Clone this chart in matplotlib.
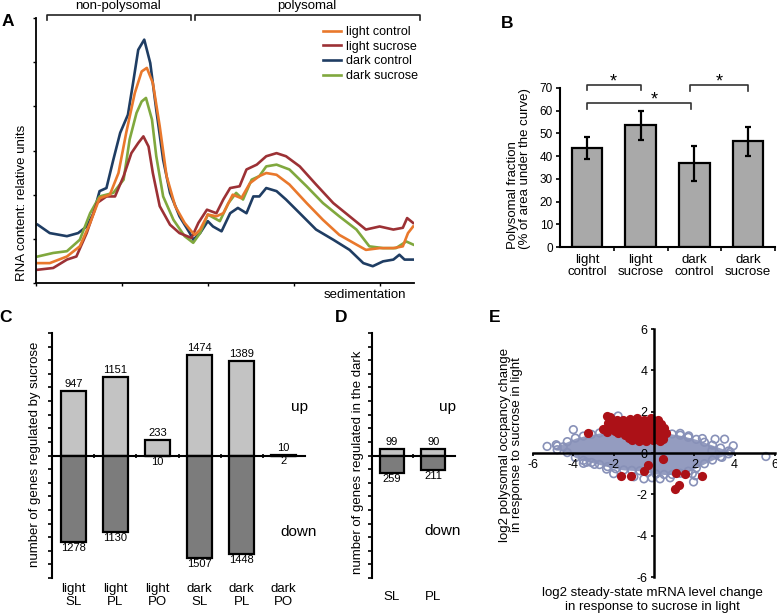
import matplotlib.pyplot as plt
import numpy as np

plt.rcParams['font.family'] = ['Liberation Sans', 'DejaVu Sans']
plt.rcParams['axes.unicode_minus'] = False

# ---- A: polysome profiles (sedimentation position, RNA content) ----
lc_x = [0.02, 0.16, 0.36, 0.51, 0.63, 0.74, 0.86, 0.96, 1.05, 1.15, 1.23, 1.29, 1.36, 1.44, 1.52, 1.62, 1.73, 1.81,
        1.85, 1.91, 2.00, 2.10, 2.18, 2.29, 2.39, 2.49, 2.60, 2.68, 2.80, 2.95, 3.15, 3.34, 3.53, 3.73, 3.84, 4.00,
        4.16, 4.27, 4.33, 4.39]
lc_y = [0.45, 0.45, 0.60, 0.83, 1.36, 1.92, 2.00, 2.49, 3.40, 4.30, 4.79, 4.87, 4.53, 3.55, 2.42, 1.74, 1.36, 1.17,
        1.09, 1.21, 1.55, 1.51, 1.58, 2.00, 1.92, 2.26, 2.42, 2.49, 2.45, 2.23, 1.81, 1.43, 1.09, 0.87, 0.75, 0.79,
        0.79, 0.83, 1.13, 1.28]
ls_x = [0.02, 0.20, 0.36, 0.47, 0.59, 0.71, 0.82, 0.92, 1.02, 1.11, 1.19, 1.25, 1.31, 1.36, 1.44, 1.56, 1.67, 1.81,
        1.89, 1.99, 2.10, 2.18, 2.26, 2.37, 2.45, 2.57, 2.68, 2.80, 2.91, 3.07, 3.26, 3.46, 3.65, 3.84, 4.00, 4.16,
        4.27, 4.32, 4.39]
ls_y = [0.30, 0.34, 0.53, 0.60, 1.13, 1.81, 1.96, 1.96, 2.42, 2.94, 3.17, 3.32, 3.09, 2.49, 1.74, 1.32, 1.13, 1.02,
        1.36, 1.66, 1.58, 1.89, 2.15, 2.19, 2.57, 2.68, 2.87, 2.94, 2.87, 2.64, 2.23, 1.81, 1.51, 1.21, 1.28, 1.21,
        1.25, 1.47, 1.36]
dc_x = [0.02, 0.16, 0.36, 0.49, 0.59, 0.67, 0.74, 0.82, 0.90, 0.98, 1.07, 1.13, 1.19, 1.26, 1.33, 1.40, 1.48, 1.56,
        1.67, 1.79, 1.83, 1.91, 2.00, 2.06, 2.16, 2.26, 2.35, 2.45, 2.53, 2.60, 2.68, 2.80, 2.91, 3.07, 3.26, 3.46,
        3.65, 3.81, 3.92, 4.04, 4.16, 4.23, 4.29, 4.39]
dc_y = [1.32, 1.13, 1.06, 1.13, 1.28, 1.58, 2.08, 2.15, 2.79, 3.40, 3.81, 4.53, 5.28, 5.51, 4.98, 3.92, 2.79, 2.04,
        1.51, 1.13, 0.98, 1.13, 1.40, 1.28, 1.17, 1.58, 1.70, 1.58, 1.96, 1.96, 2.15, 2.08, 1.89, 1.58, 1.21, 0.98,
        0.75, 0.45, 0.38, 0.49, 0.53, 0.64, 0.53, 0.53]
ds_x = [0.02, 0.20, 0.36, 0.51, 0.63, 0.74, 0.90, 1.02, 1.09, 1.17, 1.23, 1.28, 1.35, 1.40, 1.48, 1.60, 1.73, 1.83,
        1.91, 2.00, 2.14, 2.24, 2.33, 2.41, 2.51, 2.60, 2.68, 2.80, 2.95, 3.15, 3.34, 3.53, 3.73, 3.88, 4.04, 4.19,
        4.31, 4.39]
ds_y = [0.60, 0.68, 0.72, 0.98, 1.58, 1.96, 2.04, 2.34, 3.25, 3.85, 4.11, 4.19, 3.70, 2.87, 1.96, 1.43, 1.06, 0.91,
        1.13, 1.55, 1.40, 1.81, 2.04, 1.89, 2.34, 2.42, 2.64, 2.68, 2.57, 2.19, 1.81, 1.51, 1.21, 0.83, 0.79, 0.79,
        0.94, 0.87]

# ---- B: polysomal fraction ----
b_labels = ['light\ncontrol', 'light\nsucrose', 'dark\ncontrol', 'dark\nsucrose']
b_vals = [43.7, 53.5, 36.8, 46.5]
b_errs = [4.8, 6.4, 7.7, 6.4]

# ---- C / D: gene counts ----
c_labels = ['light\nSL', 'light\nPL', 'light\nPO', 'dark\nSL', 'dark\nPL', 'dark\nPO']
c_up = [947, 1151, 233, 1474, 1389, 10]
c_down = [1278, 1130, 10, 1507, 1448, 2]
d_labels = ['SL', 'PL']
d_up = [99, 90]
d_down = [259, 211]

# ---- E: scatter ----
env_x = [-4.8, -4.3, -3.9, -3.5, -3.1, -2.7, -2.3, -1.9, -1.5, -1.1, -0.7, -0.3, 0.1, 0.5, 0.9, 1.3, 1.7, 2.1,
         2.5, 2.9, 3.3, 3.7]
env_hi = [0.34, 0.55, 0.72, 0.82, 0.9, 0.97, 1.05, 1.1, 1.15, 1.2, 1.22, 1.22, 1.15, 1.02, 0.92, 0.86, 0.76, 0.66,
          0.52, 0.38, 0.24, 0.1]
env_lo = [0.16, 0.02, -0.22, -0.36, -0.46, -0.56, -0.66, -0.76, -0.82, -0.84, -0.86, -0.94, -1.02, -1.04, -1.04,
          -0.98, -0.88, -0.72, -0.52, -0.34, -0.18, -0.04]
gray_x = [-5.3, -4.85, -4.5, -4.0, -3.5, -2.95, -2.35, -2.0, -1.78, 0.3, 0.8, 1.9, 1.96, 2.05, 1.72, 3.03, 3.5,
          3.93, 3.78, 3.37, 2.87, 5.55, -3.35, -0.5, -1.0, 2.4, 1.3, -0.1]
gray_y = [0.32, 0.4, 0.3, 1.13, -0.5, -0.55, -0.78, -1.0, 1.79, -1.25, -1.2, -1.0, -1.4, -1.1, 0.83, 0.67, 0.67,
          0.35, 0.05, -0.21, 0.11, -0.17, -0.45, -1.25, -1.15, 0.7, 0.95, -1.2]
red_x = [-2.35, -2.2, -1.85, -2.55, -2.35, -3.25, -2.05, -1.95, -2.3, -2.0, -1.9, -2.2, -1.8,
         -1.55, -1.2, -0.85, -0.5, -0.15, 0.2,
         -1.4, -1.05, -0.7, -0.3, 0.05, 0.35,
         -1.75, -1.45, -1.1, -0.8, -0.45, -0.1, 0.25, 0.5,
         -1.55, -1.2, -0.9, -0.6, -0.25, 0.1, 0.4,
         -1.6, -1.3, -1.0, -0.7, -0.35, -0.05, 0.3, 0.6,
         -1.5, -1.15, -0.85, -0.5, -0.15, 0.2, 0.5,
         -1.45, -1.15, -0.85, -0.55, -0.2, 0.1, 0.42,
         -1.25, -0.9, -0.55, -0.25, 0.15, 0.45,
         -1.1, -0.75, -0.4, -0.05, 0.3,
         -1.62, -1.15, -0.5, -0.3, 0.46, 1.1, 1.52, 2.37, 1.05, 1.24]
red_y = [1.78, 1.72, 1.62, 1.15, 1.02, 0.95, 1.30, 1.05, 1.45, 1.55, 1.35, 1.2, 0.95,
         1.6, 1.65, 1.7, 1.62, 1.68, 1.58,
         1.48, 1.5, 1.46, 1.5, 1.47, 1.42,
         1.38, 1.35, 1.4, 1.32, 1.38, 1.35, 1.3, 1.2,
         1.22, 1.24, 1.2, 1.25, 1.22, 1.2, 1.15,
         1.1, 1.12, 1.08, 1.12, 1.05, 1.1, 1.05, 0.98,
         0.97, 0.98, 0.95, 0.98, 0.96, 0.95, 0.9,
         0.85, 0.82, 0.88, 0.8, 0.85, 0.82, 0.8,
         0.72, 0.72, 0.7, 0.74, 0.7, 0.7,
         0.62, 0.58, 0.6, 0.62, 0.6,
         -1.09, -1.09, -0.85, -0.6, -0.29, -0.95, -1.0, -1.1, -1.72, -1.55]

W, H = 777, 615


def box(l, t, r, b):
    return [l / W, 1 - b / H, (r - l) / W, (b - t) / H]


fig = plt.figure(figsize=(7.77, 6.15), dpi=100)

# ================= A =================
axA = fig.add_axes(box(36, 18, 414, 283))
series = [(dc_x, dc_y, '#1f3d63', 'dark control'),
          (ds_x, ds_y, '#80a83e', 'dark sucrose'),
          (ls_x, ls_y, '#9c3135', 'light sucrose'),
          (lc_x, lc_y, '#e9782c', 'light control')]
handles = {}
for x, y, c, lab in series:
    handles[lab], = axA.plot(x, y, color=c, lw=1.9, label=lab)
axA.set_xlim(0, 4.4)
axA.set_ylim(0, 6)
axA.set_xticks(range(5))
axA.set_yticks(range(7))
axA.set_xticklabels([])
axA.set_yticklabels([])
for s in ['top', 'right']:
    axA.spines[s].set_visible(False)
for s in ['left', 'bottom']:
    axA.spines[s].set_linewidth(1.3)
axA.tick_params(direction='out', length=2.5, width=1)
order = ['light control', 'light sucrose', 'dark control', 'dark sucrose']
axA.legend([handles[k] for k in order], order, loc='upper left', bbox_to_anchor=(323 / W, 1 - 26 / H),
           bbox_transform=fig.transFigure, frameon=False, fontsize=9, handlelength=1.45,
           handletextpad=0.35, labelspacing=0.22, borderpad=0, borderaxespad=0)
trA = axA.get_xaxis_transform()
axA.plot([0.124, 0.124, 1.80, 1.80], [0.993, 1.011, 1.011, 0.993], transform=trA, clip_on=False,
         color='#222222', lw=1.2)
axA.plot([1.85, 1.85, 4.47, 4.47], [0.993, 1.011, 1.011, 0.993], transform=trA, clip_on=False,
         color='#222222', lw=1.2)
axA.text(0.95, 1.045, 'non-polysomal', transform=trA, ha='center', va='center', fontsize=9.5)
axA.text(3.15, 1.045, 'polysomal', transform=trA, ha='center', va='center', fontsize=9.5)
axA.text(3.83, -0.045, 'sedimentation', transform=trA, ha='center', va='center', fontsize=9.5)
fig.text(22 / W, 1 - 203 / H, 'RNA content: relative units', rotation=90, ha='center', va='center',
         fontsize=9.5)

# ================= B =================
axB = fig.add_axes(box(560, 88, 775, 247))
xb = np.arange(len(b_vals))
axB.bar(xb, b_vals, width=0.57, color='#a9a9a9', edgecolor='black', linewidth=1.6)
axB.errorbar(xb, b_vals, yerr=b_errs, fmt='none', ecolor='black', elinewidth=1.6, capsize=2.5, capthick=1.6)
axB.set_xlim(-0.5, 3.5)
axB.set_ylim(0, 70)
axB.set_yticks(range(0, 71, 10))
axB.set_xticks(xb)
axB.set_xticklabels(b_labels, fontsize=9.5, linespacing=1.0)
axB.set_xticks([0.5, 1.5, 2.5, 3.5], minor=True)
axB.tick_params(axis='x', which='major', length=0, pad=5)
axB.tick_params(axis='x', which='minor', length=3, width=1.2, direction='out')
axB.tick_params(axis='y', length=3, width=1.2, direction='out', labelsize=8.5, pad=2)
for s in ['top', 'right']:
    axB.spines[s].set_visible(False)
for s in ['left', 'bottom']:
    axB.spines[s].set_linewidth(1.5)
sig = [(0.0, 1.0, 71.5, 69.0, 0.49, 75.5), (0.0, 1.94, 63.2, 60.6, 1.25, 67.5), (1.92, 2.99, 71.3, 68.7, 2.46, 75.3)]
for x0, x1, ytop, yleg, xs, ys in sig:
    axB.plot([x0, x0, x1, x1], [yleg, ytop, ytop, yleg], color='#333333', lw=1.2, clip_on=False)
    axB.text(xs, ys - 4.8, '*', ha='center', va='baseline', fontsize=13, clip_on=False)
fig.text(519 / W, 1 - 169 / H, 'Polysomal fraction\n(% of area under the curve)', rotation=90, ha='center',
         va='center', multialignment='left', fontsize=9.5, linespacing=1.0)


# ================= C & D =================
def updown(ax, labels, up, down, width, label_y):
    x = np.arange(len(up))
    ax.bar(x, up, width=width, color='#c3c3c3', edgecolor='black', linewidth=1.6)
    ax.bar(x, [-d for d in down], width=width, color='#7c7c7c', edgecolor='black', linewidth=1.6)
    for xi, u, d in zip(x, up, down):
        ax.annotate(str(u), (xi, u), xytext=(0, 1.5), textcoords='offset points', ha='center', va='bottom',
                    fontsize=8)
        ax.annotate(str(d), (xi, -d), xytext=(0, -0.5), textcoords='offset points', ha='center', va='top',
                    fontsize=8)
    ax.set_ylim(-1800, 1800)
    ax.set_yticks(range(-1800, 1801, 200))
    ax.set_yticklabels([])
    ax.set_xticks(x[:-1] + 0.5)
    ax.set_xticklabels([])
    ax.tick_params(axis='y', direction='out', length=3, width=1.2)
    ax.tick_params(axis='x', direction='inout', length=3, width=1.2)
    ax.spines['bottom'].set_position(('data', 0))
    ax.spines['bottom'].set_linewidth(1.5)
    ax.spines['left'].set_linewidth(1.5)
    for s in ['top', 'right']:
        ax.spines[s].set_visible(False)
    tr = ax.get_xaxis_transform()
    for xi, lab in zip(x, labels):
        ax.text(xi, label_y, lab, transform=tr, ha='center', va='top', fontsize=9.5, linespacing=1.15)


axC = fig.add_axes(box(52, 333, 305, 578))
updown(axC, c_labels, c_up, c_down, 0.6, -0.02)
axC.set_xlim(-0.51, 5.51)
axC.text(5.39, 717, 'up', ha='center', va='center', fontsize=11)
axC.text(5.35, -1127, 'down', ha='center', va='center', fontsize=11)
fig.text(35 / W, 1 - 454 / H, 'number of genes regulated by sucrose', rotation=90, ha='center', va='center',
         fontsize=9.5)

axD = fig.add_axes(box(372, 333, 455, 578))
updown(axD, d_labels, d_up, d_down, 0.58, -0.055)
axD.set_xlim(-0.48, 1.52)
axD.text(1.35, 717, 'up', ha='center', va='center', fontsize=11)
axD.text(1.23, -1113, 'down', ha='center', va='center', fontsize=11)
fig.text(358 / W, 1 - 462 / H, 'number of genes regulated in the dark', rotation=90, ha='center', va='center',
         fontsize=9.5)

# ================= E =================
axE = fig.add_axes(box(533, 329, 775, 577))
axE.fill_between(env_x, env_lo, env_hi, color='#949cc0', lw=0)
ring = dict(s=30, facecolors='none', edgecolors='#8891b8', linewidths=1.2)
axE.scatter(env_x, env_hi, **ring)
axE.scatter(env_x, env_lo, **ring)
axE.scatter(gray_x, gray_y, **ring)
axE.scatter(red_x, red_y, s=44, color='#ac1117', linewidths=0)
axE.set_xlim(-6, 6)
axE.set_ylim(-6, 6)
axE.spines['left'].set_position(('data', 0))
axE.spines['bottom'].set_position(('data', 0))
for s in ['top', 'right']:
    axE.spines[s].set_visible(False)
for s in ['left', 'bottom']:
    axE.spines[s].set_linewidth(1.8)
axE.set_xticks([-6, -4, -2, 2, 4, 6])
axE.set_yticks([-6, -4, -2, 0, 2, 4, 6])
axE.tick_params(direction='out', length=2.5, width=1.2, labelsize=9, pad=2)
fig.text(511 / W, 1 - 445 / H, 'log2 polysomal occpancy change\nin response to sucrose in light', rotation=90,
         ha='center', va='center', fontsize=9.5, linespacing=1.0)
fig.text(652 / W, 1 - 600 / H, 'log2 steady-state mRNA level change\nin response to sucrose in light',
         ha='center', va='center', fontsize=9.5, linespacing=1.15)

# panel letters
for lab, px, py in [('A', 8, 22), ('B', 507, 23), ('C', 5, 318), ('D', 341, 318), ('E', 495, 318)]:
    fig.text(px / W, 1 - py / H, lab, ha='center', va='center', fontsize=12.5, fontweight='bold')

fig.savefig('out.png', dpi=100)
